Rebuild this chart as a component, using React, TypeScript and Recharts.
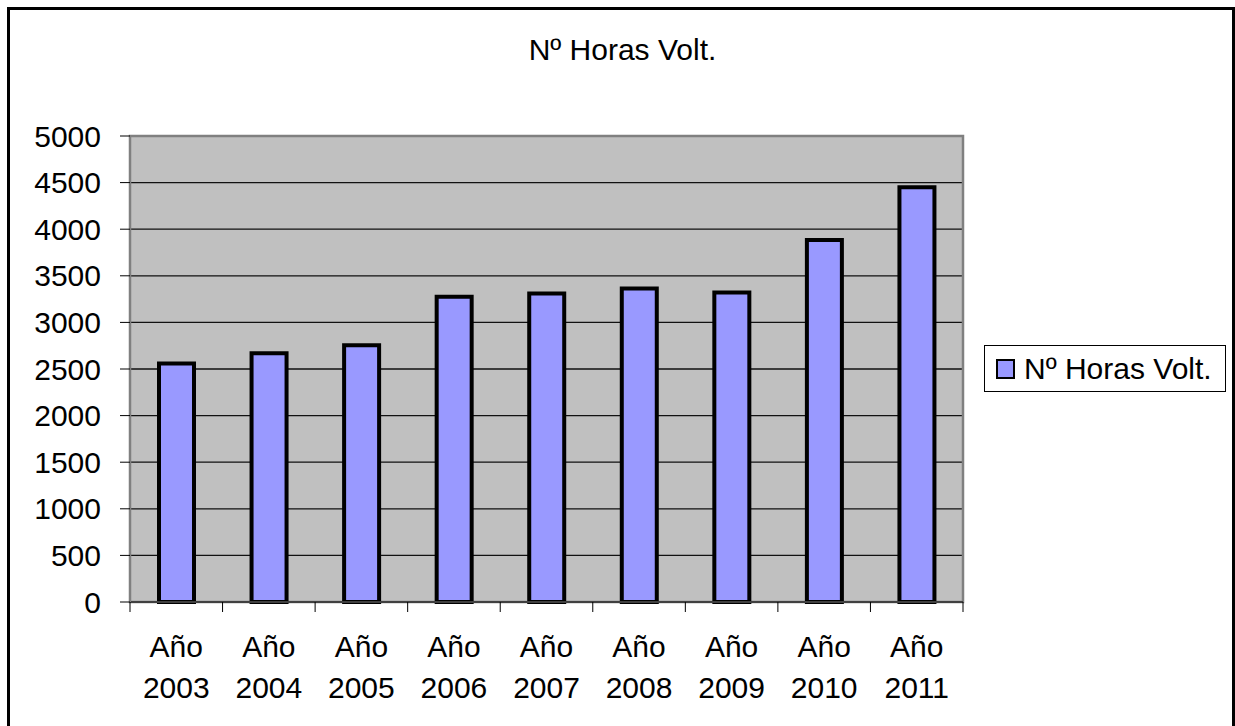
import React from 'react';
import { BarChart, Bar, XAxis, YAxis, CartesianGrid, Legend, ReferenceArea } from 'recharts';

const categories = ['Año 2003', 'Año 2004', 'Año 2005', 'Año 2006', 'Año 2007', 'Año 2008', 'Año 2009', 'Año 2010', 'Año 2011'];
const horasValues = [2560, 2670, 2755, 3275, 3310, 3365, 3320, 3885, 4450];
const yTicks = [0, 500, 1000, 1500, 2000, 2500, 3000, 3500, 4000, 4500, 5000];
const seriesName = 'Nº Horas Volt.';
const title = 'Nº Horas Volt.';

const data = categories.map((c, i) => ({ name: c, horas: horasValues[i] }));

const FONT = '"Liberation Sans", Arial, sans-serif';
const W = 1235;
const H = 726;
const MARGIN = { top: 136, right: 272, left: 30, bottom: 34 };
const Y_AXIS_W = 100;
const X_AXIS_H = 90;
const PLOT_W = W - MARGIN.left - Y_AXIS_W - MARGIN.right;
const HALF_BAND = PLOT_W / categories.length / 2;

const XTick = (props: any) => {
  const { x, y, payload, index } = props;
  const parts = String(payload.value).split(' ');
  const top = y - 10;
  return (
    <g>
      <line x1={x - HALF_BAND} x2={x - HALF_BAND} y1={top} y2={top + 10} stroke="#000" strokeWidth={1} />
      {index === categories.length - 1 && (
        <line x1={x + HALF_BAND} x2={x + HALF_BAND} y1={top} y2={top + 10} stroke="#000" strokeWidth={1} />
      )}
      <text x={x} y={top} textAnchor="middle" fontFamily={FONT} fontSize={30} fill="#000">
        <tspan x={x} dy={55}>{parts[0]}</tspan>
        <tspan x={x} dy={41}>{parts[1]}</tspan>
      </text>
    </g>
  );
};

const LegendContent = () => (
  <div
    style={{
      boxSizing: 'border-box',
      width: 242,
      height: 47,
      border: '1px solid #000',
      background: '#fff',
      display: 'flex',
      alignItems: 'center',
      paddingLeft: 11,
      fontFamily: FONT,
      fontSize: 30,
      color: '#000',
    }}
  >
    <div style={{ boxSizing: 'border-box', width: 19, height: 20, border: '2px solid #000', background: '#9999FF' }} />
    <span style={{ marginLeft: 9, lineHeight: '30px', whiteSpace: 'nowrap' }}>{seriesName}</span>
  </div>
);

export default function App() {
  return (
    <div style={{ position: 'absolute', left: 0, top: 0, width: W, height: H, overflow: 'hidden', background: '#fff' }}>
      <div
        style={{
          position: 'absolute',
          left: 7,
          top: 7,
          width: 1228,
          height: 730,
          boxSizing: 'border-box',
          border: '3px solid #000',
          borderBottom: 'none',
        }}
      />
      <div
        style={{
          position: 'absolute',
          left: 0,
          width: 1245,
          top: 33,
          textAlign: 'center',
          fontFamily: FONT,
          fontSize: 30,
          lineHeight: '34px',
          color: '#000',
        }}
      >
        {title}
      </div>
      <div style={{ position: 'absolute', left: 0, top: 0 }}>
        <BarChart width={W} height={H} data={data} margin={MARGIN}>
          <CartesianGrid vertical={false} fill="#C0C0C0" stroke="#111" strokeWidth={1.3} />
          <XAxis
            dataKey="name"
            height={X_AXIS_H}
            interval={0}
            tickLine={false}
            tickSize={10}
            tickMargin={0}
            axisLine={{ stroke: '#404040', strokeWidth: 2 }}
            tick={<XTick />}
          />
          <YAxis
            width={Y_AXIS_W}
            domain={[0, 5000]}
            ticks={yTicks}
            interval={0}
            tickSize={10}
            tickMargin={19}
            tickLine={{ stroke: '#000', strokeWidth: 1 }}
            axisLine={{ stroke: '#808080', strokeWidth: 2 }}
            tick={{ fontFamily: FONT, fontSize: 30, fill: '#000' }}
          />
          <ReferenceArea y1={0} y2={5000} fill="none" stroke="#808080" strokeWidth={2.5} ifOverflow="visible" />
          <Bar dataKey="horas" name={seriesName} fill="#9999FF" stroke="#000" strokeWidth={4} barSize={35} isAnimationActive={false} />
          <Legend
            layout="horizontal"
            align="center"
            verticalAlign="middle"
            content={<LegendContent />}
            wrapperStyle={{ left: 984, top: 345, width: 242, height: 47 }}
          />
        </BarChart>
      </div>
    </div>
  );
}
